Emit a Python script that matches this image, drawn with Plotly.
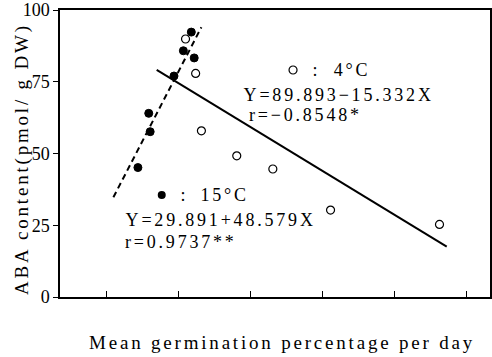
import plotly.graph_objects as go

# 15°C (filled circles)
x15 = [1.18, 1.07, 1.22, 0.94, 0.59, 0.61, 0.44]
y15 = [92.3, 85.8, 83.3, 77.0, 64.0, 57.6, 45.1]
# 4°C (open circles)
x4 = [1.10, 1.24, 1.32, 1.81, 2.31, 3.11, 4.62]
y4 = [89.9, 77.9, 57.9, 49.2, 44.6, 30.3, 25.3]

# regression lines (published equations) and their x extents
a15, b15 = 29.891, 48.579
a4, b4 = 89.893, -15.332
line15_x = [0.10, 1.32]
line4_x = [0.70, 4.72]

x_ticks = [0, 1, 2, 3, 4, 5]
y_ticks = [0, 25, 50, 75, 100]

x_title = "Mean germination percentage per day"
y_title = "ABA content(pmol/ g DW)"

FONT = "Liberation Serif"

fig = go.Figure()
fig.add_trace(go.Scatter(x=line15_x, y=[a15 + b15 * v for v in line15_x], mode="lines",
                         line=dict(color="black", width=2, dash="6px,4px"), showlegend=False))
fig.add_trace(go.Scatter(x=line4_x, y=[a4 + b4 * v for v in line4_x], mode="lines",
                         line=dict(color="black", width=2), showlegend=False))
fig.add_trace(go.Scatter(x=x4, y=y4, mode="markers",
                         marker=dict(symbol="circle-open", size=8, color="black", line=dict(width=1.2)),
                         showlegend=False))
fig.add_trace(go.Scatter(x=x15, y=y15, mode="markers",
                         marker=dict(symbol="circle", size=8, color="black",
                                     line=dict(color="black", width=1)),
                         showlegend=False))
# legend key markers
fig.add_trace(go.Scatter(x=[2.59], y=[79.1], mode="markers",
                         marker=dict(symbol="circle-open", size=8, color="black", line=dict(width=1.2)),
                         showlegend=False))
fig.add_trace(go.Scatter(x=[0.77], y=[35.5], mode="markers",
                         marker=dict(symbol="circle", size=8, color="black"),
                         showlegend=False))
# x tick labels as text placed at the tick values, just below the axis
fig.add_trace(go.Scatter(x=x_ticks, y=[-5.6] * len(x_ticks), mode="text",
                         text=[str(v) for v in x_ticks], textposition="middle center",
                         textfont=dict(family=FONT, size=18, color="black"),
                         cliponaxis=False, showlegend=False, hoverinfo="skip"))

tf = dict(family=FONT, size=18, color="black")
ann = [
    dict(x=2.92, y=79.1, text=":"),
    dict(x=3.41, y=79.1, text="4°C"),
    dict(x=3.22, y=70.4, text="Y=89.893−15.332X"),
    dict(x=2.76, y=63.4, text="r=−0.8548*"),
    dict(x=1.08, y=35.5, text=":"),
    dict(x=1.64, y=35.5, text="15°C"),
    dict(x=1.58, y=26.8, text="Y=29.891+48.579X"),
    dict(x=1.04, y=19.2, text="r=0.9737**"),
]
for a in ann:
    fig.add_annotation(xref="x", yref="y", showarrow=False, xanchor="center",
                       yanchor="middle", font=tf, **a)

# axis titles
fig.add_annotation(xref="paper", yref="paper", x=0.518, y=-0.157, text=x_title,
                   showarrow=False, xanchor="center", yanchor="middle",
                   font=dict(family=FONT, size=19, color="black"))
fig.add_annotation(xref="paper", yref="paper", x=-0.0884, y=0.4815, text=y_title,
                   textangle=-90, showarrow=False, xanchor="center", yanchor="middle",
                   font=dict(family=FONT, size=19, color="black"))

fig.update_layout(
    width=492, height=357,
    margin=dict(l=60, r=2, t=10, b=60),
    plot_bgcolor="white", paper_bgcolor="white",
    font=dict(family=FONT, size=18, color="black"),
    showlegend=False,
)
fig.update_xaxes(range=[-0.64, 5.32], tickvals=x_ticks, ticks="inside", ticklen=6,
                 tickcolor="black", showline=True, linecolor="black", linewidth=1.5,
                 mirror=True, showgrid=False, zeroline=False, automargin=False,
                 showticklabels=False)
fig.update_yaxes(range=[0, 100], tickvals=y_ticks, ticks="outside", ticklen=5,
                 tickcolor="black", showline=True, linecolor="black", linewidth=1.5,
                 mirror=True, showgrid=False, zeroline=False, automargin=False,
                 ticklabeloverflow="allow", tickfont=dict(size=18))

post = ("document.body.style.margin='0';"
        "var s=document.createElement('style');"
        "s.textContent='body{margin:0}.annotation-text{letter-spacing:2.8px}';"
        "document.head.appendChild(s);")

fig.write_html("out.html", post_script=post, config={"displayModeBar": False})
